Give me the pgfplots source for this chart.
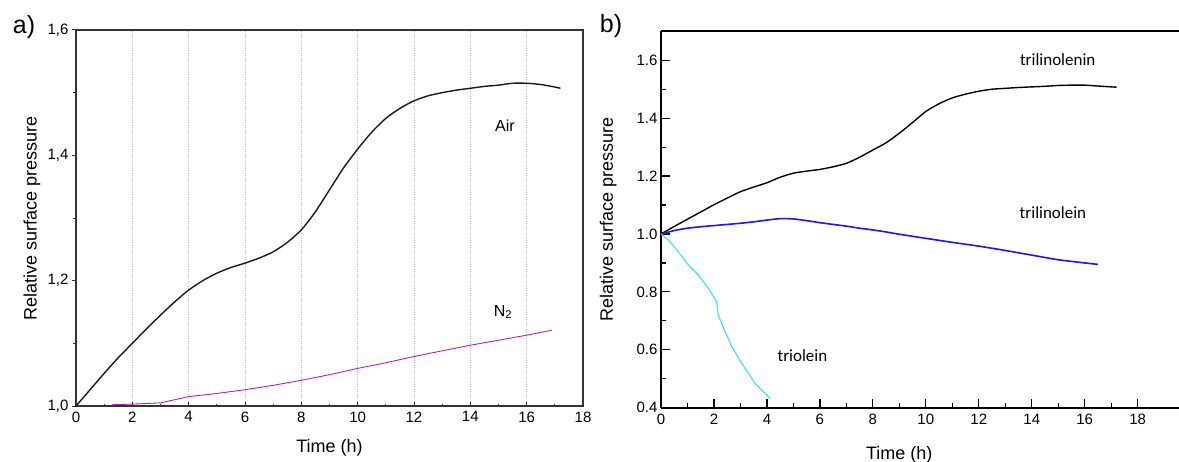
\documentclass[border=0pt]{standalone}
\usepackage{pgfplots}
\pgfplotsset{compat=1.18}
\usepackage{fontspec}
\setmainfont{Liberation Sans}
\newfontfamily\calibri{Carlito}

\definecolor{airblack}{RGB}{25,25,25}
\definecolor{ntwo}{RGB}{165,40,170}
\definecolor{tlblue}{RGB}{25,25,235}
\definecolor{tocyan}{RGB}{60,225,240}

\begin{document}
\begin{tikzpicture}
\useasboundingbox (0,0) rectangle (1179pt,461pt);

\node[font=\fontsize{25}{27}\selectfont] at (24pt,434pt) {a)};
\node[font=\fontsize{25}{27}\selectfont] at (611pt,435pt) {b)};

% ---- panel a ----
\begin{axis}[
  at={(76pt,55pt)}, anchor=south west, scale only axis,
  width=507pt, height=376pt,
  xmin=0, xmax=18, ymin=1.0, ymax=1.6,
  xtick={0,2,...,18}, minor x tick num=1,
  ytick={1.0,1.2,1.4,1.6}, minor y tick num=1,
  xtick pos=bottom, ytick pos=left,
  xtick align=inside, ytick align=outside,
  major tick length=4pt, minor tick length=2.5pt,
  xmajorgrids,
  grid style={dotted, black!25, line width=0.6pt},
  axis line style={line width=1.6pt, black!80},
  tick style={line width=1pt, black!80},
  /pgf/number format/assume math mode=true,
  ticklabel style={font=\fontsize{15}{17}\selectfont},
  xticklabel style={yshift=-2pt},
  yticklabel style={/pgf/number format/.cd, fixed, fixed zerofill, precision=1, use comma},
  xlabel={Time (h)}, ylabel={Relative surface pressure},
  label style={font=\fontsize{18}{20}\selectfont},
  xlabel style={at={(axis description cs:0.5,-0.112)}, anchor=center},
  ylabel style={at={(axis description cs:-0.087,0.5)}, anchor=center},
]
% Air
\addplot[airblack, line width=1.4pt, smooth, tension=0.4] coordinates {
  (0,1.000) (0.5,1.026) (1,1.052) (1.5,1.077) (2,1.100) (2.5,1.123)
  (3,1.145) (3.5,1.166) (4,1.185) (4.5,1.200) (5,1.212) (5.5,1.221)
  (6,1.228) (6.5,1.236) (7,1.246) (7.5,1.261) (8,1.281) (8.5,1.310)
  (9,1.345) (9.5,1.380) (10,1.410) (10.5,1.437) (11,1.459) (11.5,1.475)
  (12,1.487) (12.5,1.495) (13,1.500) (13.5,1.504) (14,1.507) (14.5,1.510)
  (15,1.512) (15.5,1.515) (16,1.515) (16.5,1.513) (17,1.509) (17.2,1.507)
};
% N2
\addplot[ntwo, line width=0.9pt] coordinates {
  (1.27,1.002) (2,1.003) (3,1.005) (4,1.015) (5,1.020) (6,1.026)
  (7,1.033) (8,1.041) (9,1.050) (10,1.060) (11,1.069) (12,1.079)
  (13,1.088) (14,1.097) (15,1.105) (16,1.113) (16.9,1.121)
};
\node[font=\fontsize{16}{18}\selectfont] at (axis cs:15.23,1.448) {Air};
\node[font=\fontsize{16}{18}\selectfont] at (axis cs:15.16,1.150) {N\textsubscript{2}};
\end{axis}

% ---- panel b ----
\begin{axis}[
  at={(661pt,53.3pt)}, anchor=south west, scale only axis,
  width=518pt, height=376.4pt,
  xmin=0, xmax=19.56, ymin=0.4, ymax=1.7,
  axis lines*=left, clip=false,
  xtick={0,2,...,18}, minor x tick num=1,
  ytick={0.4,0.6,...,1.6}, minor y tick num=1,
  tick align=inside,
  major tick length=9pt, minor tick length=5pt,
  axis line style={line width=1.6pt, black},
  tick style={line width=1.2pt, black},
  /pgf/number format/assume math mode=true,
  ticklabel style={font=\fontsize{15}{17}\selectfont},
  xticklabel style={yshift=-3pt},
  yticklabel style={/pgf/number format/.cd, fixed, fixed zerofill, precision=1},
  xlabel={Time (h)}, ylabel={Relative surface pressure},
  label style={font=\fontsize{18}{20}\selectfont},
  xlabel style={at={(axis description cs:0.46,-0.125)}, anchor=center},
  ylabel style={at={(axis description cs:-0.102,0.5)}, anchor=center},
]
\draw[line width=1.6pt] (rel axis cs:0,1) -- (rel axis cs:1,1);
% trilinolenin
\addplot[black, line width=1.4pt, smooth, tension=0.4] coordinates {
  (0,1.000) (0.5,1.026) (1,1.051) (1.5,1.076) (2,1.101) (2.5,1.124)
  (3,1.146) (3.5,1.162) (4,1.177) (4.5,1.196) (5,1.210) (5.5,1.217)
  (6,1.223) (6.5,1.232) (7,1.244) (7.5,1.265) (8,1.290) (8.5,1.315)
  (9,1.348) (9.5,1.385) (10,1.423) (10.5,1.450) (11,1.470) (11.5,1.483)
  (12,1.493) (12.5,1.500) (13,1.503) (13.5,1.506) (14,1.508) (14.5,1.510)
  (15,1.513) (15.5,1.514) (16,1.514) (16.5,1.511) (17,1.508) (17.2,1.507)
};
% trilinolein
\addplot[tlblue, line width=1.6pt, smooth, tension=0.4] coordinates {
  (0,1.000) (0.3,1.007) (0.5,1.012) (1,1.020) (1.5,1.025) (2,1.029)
  (2.5,1.033) (3,1.037) (3.5,1.042) (4,1.048) (4.5,1.053) (5,1.052)
  (5.5,1.046) (6,1.039) (6.5,1.033) (7,1.027) (7.5,1.020) (8,1.014)
  (8.5,1.007) (9,0.999) (9.5,0.992) (10,0.985) (11,0.971) (12,0.958)
  (13,0.943) (14,0.927) (15,0.911) (16,0.900) (16.5,0.895)
};
% triolein
\addplot[tocyan, line width=1.1pt] coordinates {
  (0,1.000) (0.28,0.979) (0.65,0.939) (1.03,0.893) (1.41,0.858)
  (1.79,0.812) (2.10,0.766) (2.16,0.720) (2.42,0.663) (2.67,0.611)
  (3.05,0.553) (3.55,0.484) (4.12,0.432)
};
\node[font=\calibri\fontsize{17}{19}\selectfont] at (axis cs:14.98,1.601) {trilinolenin};
\node[font=\calibri\fontsize{17}{19}\selectfont] at (axis cs:14.8,1.075) {trilinolein};
\node[font=\calibri\fontsize{17}{19}\selectfont] at (axis cs:5.34,0.579) {triolein};
\end{axis}
\end{tikzpicture}
\end{document}
